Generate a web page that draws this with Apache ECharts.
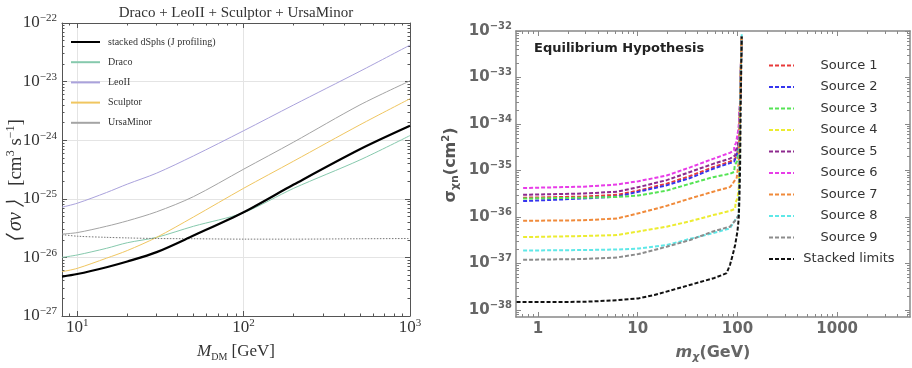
<!DOCTYPE html>
<html>
<head>
<meta charset="utf-8">
<script src="https://cdn.jsdelivr.net/npm/echarts@6/dist/echarts.min.js"></script>
<style>
  html, body { margin: 0; padding: 0; background: #fff; }
  #chart { width: 912px; height: 368px; }
</style>
</head>
<body>
<div id="chart"></div>
<script>
// ---- left panel: <sigma v> limits vs M_DM (GeV, cm^3 s^-1)
const dmMass = [8.1, 10, 15, 20, 30, 50, 100, 200, 500, 1000];
const stackedDsph = [4.7e-27, 5.2e-27, 6.8e-27, 8.5e-27, 1.23e-26, 2.36e-26, 5.9e-26, 1.75e-25, 7.0e-25, 1.76e-24];
const draco = [1.0e-26, 1.1e-26, 1.43e-26, 1.78e-26, 2.2e-26, 3.4e-26, 5.8e-26, 1.51e-25, 4.6e-25, 1.2e-24];
const leoII = [7.2e-26, 8.4e-26, 1.28e-25, 1.78e-25, 2.74e-25, 5.4e-25, 1.45e-24, 4.0e-24, 1.5e-23, 4.2e-23];
const sculptor = [5.7e-27, 6.5e-27, 9.7e-27, 1.31e-26, 2.2e-26, 4.9e-26, 1.51e-25, 4.4e-25, 1.83e-24, 5.1e-24];
const ursaMinor = [2.5e-26, 2.65e-26, 3.4e-26, 4.2e-26, 6.0e-26, 1.09e-25, 3.2e-25, 9.3e-25, 4.0e-24, 1.03e-23];
const thermalRelic = [2.45e-26, 2.3e-26, 2.2e-26, 2.15e-26, 2.1e-26, 2.08e-26, 2.05e-26, 2.05e-26, 2.08e-26, 2.1e-26];

const leftXMajor = [1, 2, 3]; // log10 GeV
const leftXMinor = [9, 20, 30, 40, 50, 60, 70, 80, 90, 200, 300, 400, 500, 600, 700, 800, 900];
const leftYMajor = [-27, -26, -25, -24, -23, -22];

// ---- right panel: sigma_chi n vs m_chi (GeV, cm^2)
const srcMass = [0.71, 2.85, 6.2, 10.2, 19.5, 33.5, 57, 84];
const source1 = [2.6e-36, 2.75e-36, 3.0e-36, 3.7e-36, 5.2e-36, 7.6e-36, 1.18e-35, 1.55e-35];
const source2 = [2.2e-36, 2.5e-36, 2.75e-36, 3.5e-36, 4.8e-36, 6.9e-36, 1.09e-35, 1.44e-35];
const source3 = [2.5e-36, 2.6e-36, 2.7e-36, 2.9e-36, 3.7e-36, 5.2e-36, 7.2e-36, 8.5e-36];
const source4 = [3.7e-37, 3.9e-37, 4.1e-37, 4.9e-37, 6.2e-37, 8.1e-37, 1.1e-36, 1.35e-36];
const source5 = [3.0e-36, 3.2e-36, 3.5e-36, 4.4e-36, 6.2e-36, 9.3e-36, 1.39e-35, 1.8e-35];
const source6 = [4.2e-36, 4.5e-36, 5.0e-36, 5.9e-36, 7.8e-36, 1.17e-35, 1.78e-35, 2.4e-35];
const source7 = [8.3e-37, 8.5e-37, 9.3e-37, 1.2e-36, 1.74e-36, 2.5e-36, 3.5e-36, 4.4e-36];
const source8 = [1.9e-37, 1.95e-37, 2.0e-37, 2.1e-37, 2.5e-37, 3.4e-37, 4.5e-37, 5.7e-37];
const source9 = [1.2e-37, 1.25e-37, 1.35e-37, 1.6e-37, 2.3e-37, 3.2e-37, 4.9e-37, 6.2e-37];
// steep part near 100 GeV, [mass, sigma]
const tail1 = [[94.8, 1.77e-35], [100, 2.4e-35], [104, 4.0e-35], [106.5, 3.4e-34], [110, 7.6e-33]];
const tail2 = [[92.6, 1.55e-35], [98, 2.1e-35], [104, 3.5e-35], [106.5, 3.4e-34], [110, 7.6e-33]];
const tail3 = [[92.6, 9.3e-36], [94, 1.29e-35], [100, 1.63e-35], [103, 2.9e-35], [106.5, 3.4e-34], [110, 7.6e-33]];
const tail4 = [[94.8, 1.5e-36], [96, 2.1e-36], [100, 2.5e-36], [103, 4.1e-36], [106.5, 3.4e-34], [110, 7.6e-33]];
const tail5 = [[94.8, 2.1e-35], [96, 2.7e-35], [101, 3.4e-35], [106.5, 3.4e-34], [110, 7.6e-33]];
const tail6 = [[92.6, 2.7e-35], [93, 3.4e-35], [97, 3.9e-35], [100, 6e-35], [103, 8.3e-35], [106.5, 3.4e-34], [110, 7.6e-33]];
const tail7 = [[90, 5.2e-36], [92.6, 5.9e-36], [98, 6.6e-36], [100, 9.3e-36], [103, 1.5e-35], [106.5, 3.4e-34], [110, 7.6e-33]];
const tail8 = [[92.6, 7.9e-37], [97, 9.3e-37], [103, 1.1e-36], [106.5, 3.4e-34], [110.5, 9e-33]];
const tail9 = [[92.6, 7.9e-37], [98, 9.1e-37], [103, 1.1e-36], [106.5, 3.4e-34], [110, 7.6e-33]];
const stackedMass = [0.61, 2.85, 6.15, 10.2, 14.7, 29.4, 58.8, 78, 84.4, 89.8, 94.8, 100, 103, 104.7, 106.4, 108, 110.5];
const stackedLimit = [1.48e-38, 1.5e-38, 1.62e-38, 1.78e-38, 2.1e-38, 3.2e-38, 4.9e-38, 6.2e-38, 9.5e-38, 1.55e-37, 2.5e-37, 4.9e-37, 9.3e-37, 2.5e-36, 1.29e-35, 3.4e-34, 7.6e-33];

const sourceNames = ['Source 1', 'Source 2', 'Source 3', 'Source 4', 'Source 5', 'Source 6', 'Source 7', 'Source 8', 'Source 9'];
const sourceColors = ['#e83a3a', '#3535ee', '#55e455', '#ecec30', '#8e2a8e', '#e83ce8', '#f08a3a', '#5ee8e8', '#8c8c8c'];

const rightXMajor = [0, 1, 2, 3];
const rightYMajor = [-38, -37, -36, -35, -34, -33, -32];

const lg = Math.log10;
const toLog = (xs, ys) => xs.map((x, i) => [lg(x), lg(ys[i])]);
const pairsLog = (pts) => pts.map((p) => [lg(p[0]), lg(p[1])]);

function minorOf(lo, hi, pMin, pMax) {
  const out = [];
  for (let p = lo; p <= hi; p++) {
    for (let k = 2; k <= 9; k++) {
      const v = lg(k) + p;
      if (v > pMin && v < pMax) out.push(v);
    }
  }
  return out;
}

function makeAxes(dim, grid, range, major, minor, st, mainExtra) {
  const pos = dim === 'x' ? ['bottom', 'top'] : ['left', 'right'];
  const axes = [];
  pos.forEach((p, side) => {
    const base = {
      type: 'value', gridIndex: grid, min: range[0], max: range[1], position: p,
      splitLine: { show: false }, axisLabel: { show: false },
    };
    axes.push(Object.assign({}, base, {
      axisLine: { show: true, onZero: false, lineStyle: { color: st.color, width: st.width } },
      axisTick: { show: true, inside: true, length: st.major, customValues: major, lineStyle: { color: st.color, width: 1 } },
    }, side === 0 ? mainExtra : {}));
    axes.push(Object.assign({}, base, {
      axisLine: { show: false, onZero: false },
      axisTick: { show: true, inside: true, length: st.minor, customValues: minor, lineStyle: { color: st.color, width: 1 } },
    }));
  });
  return axes;
}

const serif = 'Liberation Serif';
const sans = 'DejaVu Sans';
const powLabel = (v) => '{b|10}{e|' + String(Math.round(v)).replace('-', '\u2212') + '}';

const leftStyle = { color: '#555', width: 1, major: 5, minor: 2.5 };
const rightStyle = { color: '#888', width: 1.5, major: 5, minor: 3 };

const leftX = makeAxes('x', 0, [lg(8.1), 3], leftXMajor, leftXMinor.map(lg), leftStyle, {
  axisLabel: {
    show: true, customValues: leftXMajor, margin: 2, formatter: powLabel,
    rich: {
      b: { fontFamily: serif, fontSize: 17, color: '#333', lineHeight: 20 },
      e: { fontFamily: serif, fontSize: 11, color: '#333', lineHeight: 12, verticalAlign: 'top' },
    },
  },
  splitLine: { show: true, lineStyle: { color: '#e4e4e4', width: 1 } },
  name: '{m|M}{s|DM}{a| [GeV]}', nameLocation: 'middle', nameGap: 26,
  nameTextStyle: {
    rich: {
      m: { fontFamily: serif, fontStyle: 'italic', fontSize: 17, color: '#333', lineHeight: 20 },
      s: { fontFamily: serif, fontSize: 10, color: '#333', lineHeight: 12, verticalAlign: 'bottom' },
      a: { fontFamily: serif, fontSize: 17, color: '#333', lineHeight: 20 },
    },
  },
});
const leftY = makeAxes('y', 0, [-27, -22], leftYMajor, minorOf(-27, -23, -27, -22), leftStyle, {
  axisLabel: {
    show: true, customValues: leftYMajor, margin: 5, formatter: powLabel,
    rich: {
      b: { fontFamily: serif, fontSize: 17, color: '#333', lineHeight: 20 },
      e: { fontFamily: serif, fontSize: 11, color: '#333', lineHeight: 12, verticalAlign: 'top' },
    },
  },
  splitLine: { show: true, lineStyle: { color: '#e4e4e4', width: 1 } },
});

const rightX = makeAxes('x', 1, [-0.22, 3.73], rightXMajor, minorOf(-1, 3, -0.22, 3.73), rightStyle, {
  axisLabel: {
    show: true, customValues: rightXMajor, margin: 5,
    formatter: (v) => String(Math.round(Math.pow(10, v))),
    fontFamily: sans, fontWeight: 'bold', fontSize: 15, color: '#666',
  },
  name: '{m|m}{s|\u03c7}{a|(GeV)}', nameLocation: 'middle', nameGap: 26,
  nameTextStyle: {
    rich: {
      m: { fontFamily: sans, fontWeight: 'bold', fontStyle: 'italic', fontSize: 16, color: '#666', lineHeight: 20 },
      s: { fontFamily: sans, fontWeight: 'bold', fontStyle: 'italic', fontSize: 11, color: '#666', lineHeight: 12, verticalAlign: 'bottom' },
      a: { fontFamily: sans, fontWeight: 'bold', fontSize: 16, color: '#666', lineHeight: 20 },
    },
  },
});
const rightY = makeAxes('y', 1, [-38.15, -32], rightYMajor, minorOf(-39, -33, -38.15, -32), rightStyle, {
  axisLabel: {
    show: true, customValues: rightYMajor, margin: 4, formatter: powLabel,
    rich: {
      b: { fontFamily: sans, fontWeight: 'bold', fontSize: 15, color: '#666', lineHeight: 20 },
      e: { fontFamily: sans, fontWeight: 'bold', fontSize: 10, color: '#666', lineHeight: 12, verticalAlign: 'top' },
    },
  },
});

const leftSeries = [
  { name: 'stacked dSphs (J profiling)', ys: stackedDsph, color: '#000', width: 2.2 },
  { name: 'Draco', ys: draco, color: '#86c9ad', width: 1 },
  { name: 'LeoII', ys: leoII, color: '#aaa2dc', width: 1 },
  { name: 'Sculptor', ys: sculptor, color: '#f0c660', width: 1 },
  { name: 'UrsaMinor', ys: ursaMinor, color: '#a4a4a4', width: 1 },
].map((s) => ({
  name: s.name, type: 'line', xAxisIndex: 0, yAxisIndex: 0, symbol: 'none', smooth: 0.3,
  data: toLog(dmMass, s.ys), z: s.width > 2 ? 5 : 3,
  lineStyle: { color: s.color, width: s.width }, itemStyle: { color: s.color },
}));
leftSeries.push({
  name: 'thermal relic', type: 'line', xAxisIndex: 0, yAxisIndex: 0, symbol: 'none', smooth: 0.3,
  data: toLog(dmMass, thermalRelic), lineStyle: { color: '#777', width: 1, type: [1.5, 1.5] },
});

const sources = [source1, source2, source3, source4, source5, source6, source7, source8, source9];
const tails = [tail1, tail2, tail3, tail4, tail5, tail6, tail7, tail8, tail9];
const rightSeries = sources.map((ys, i) => ({
  name: sourceNames[i], type: 'line', xAxisIndex: 4, yAxisIndex: 4, symbol: 'none',
  data: toLog(srcMass, ys).concat(pairsLog(tails[i])),
  lineStyle: { color: sourceColors[i], width: 2, type: [4, 2] }, itemStyle: { color: sourceColors[i] },
}));
rightSeries.push({
  name: 'Stacked limits', type: 'line', xAxisIndex: 4, yAxisIndex: 4, symbol: 'none', z: 5,
  data: toLog(stackedMass, stackedLimit),
  lineStyle: { color: '#111', width: 2, type: [4, 2] }, itemStyle: { color: '#111' },
});

const chart = echarts.init(document.getElementById('chart'), null, { renderer: 'canvas' });
chart.setOption({
  animation: false,
  backgroundColor: '#fff',
  grid: [
    { left: 62, top: 23, width: 348, height: 293 },
    { left: 516, top: 31, width: 394, height: 286 },
  ],
  xAxis: leftX.concat(rightX),
  yAxis: leftY.concat(rightY),
  legend: [
    {
      left: 70, top: 36, padding: 0, orient: 'vertical', itemWidth: 29, itemHeight: 12, itemGap: 8.2,
      itemStyle: { opacity: 0 },
      data: leftSeries.slice(0, 5).map((s) => s.name),
      textStyle: { fontFamily: serif, fontSize: 10, color: '#333', lineHeight: 12, padding: [0, 0, 0, 3] },
    },
    {
      left: 768, top: 59, padding: 0, orient: 'vertical', itemWidth: 25, itemHeight: 14, itemGap: 8.5,
      itemStyle: { opacity: 0 },
      data: sourceNames.concat(['Stacked limits']),
      formatter: (n) => '{c|' + n + '}',
      textStyle: {
        rich: { c: { fontFamily: sans, fontSize: 13, color: '#333', width: 100, align: 'center', lineHeight: 14 } },
      },
    },
  ],
  graphic: [
    {
      type: 'text', x: 236, y: 13,
      style: { text: 'Draco + LeoII + Sculptor + UrsaMinor', fontFamily: serif, fontSize: 15, fill: '#333', align: 'center', verticalAlign: 'middle' },
    },
    {
      type: 'text', x: 16, y: 181, rotation: Math.PI / 2,
      style: {
        text: '{i|\u27e8\u2009\u03c3v\u2009\u27e9}{a|   [cm}{p|3}{a| s}{p|\u22121}{a|]}', align: 'center', verticalAlign: 'middle',
        rich: {
          i: { fontFamily: serif, fontStyle: 'italic', fontSize: 20, fill: '#333', lineHeight: 22 },
          a: { fontFamily: serif, fontSize: 19, fill: '#333', lineHeight: 22 },
          p: { fontFamily: serif, fontSize: 12, fill: '#333', lineHeight: 13, verticalAlign: 'top' },
        },
      },
    },
    {
      type: 'text', x: 534, y: 49,
      style: { text: 'Equilibrium Hypothesis', fontFamily: sans, fontWeight: 'bold', fontSize: 13, fill: '#222', align: 'left', verticalAlign: 'middle' },
    },
    {
      type: 'text', x: 451, y: 165, rotation: Math.PI / 2,
      style: {
        text: '{a|\u03c3}{s|\u03c7n}{a|(cm}{p|2}{a|)}', align: 'center', verticalAlign: 'middle',
        rich: {
          a: { fontFamily: sans, fontWeight: 'bold', fontSize: 16, fill: '#555', lineHeight: 20 },
          s: { fontFamily: sans, fontWeight: 'bold', fontSize: 11, fill: '#555', lineHeight: 12, verticalAlign: 'bottom' },
          p: { fontFamily: sans, fontWeight: 'bold', fontSize: 10, fill: '#555', lineHeight: 12, verticalAlign: 'top' },
        },
      },
    },
  ],
  series: leftSeries.concat(rightSeries),
});
</script>
</body>
</html>
